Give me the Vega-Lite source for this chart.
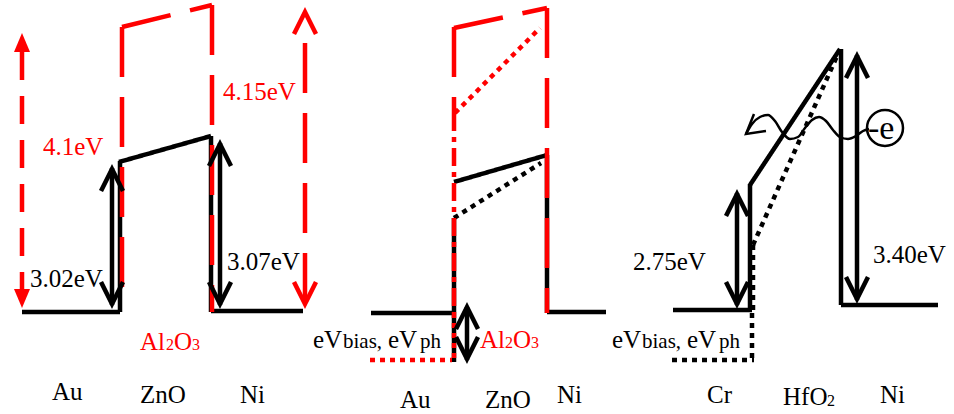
{
  "$schema": "https://vega.github.io/schema/vega-lite/v6.json",
  "width": 954,
  "height": 414,
  "autosize": {"type": "fit", "contains": "padding"},
  "padding": 0,
  "background": "white",
  "config": {"view": {"stroke": null}},
  "datasets": {
    "segments": [
      {"x": 22, "y": 312, "x2": 120, "y2": 312, "kind": "band"},
      {"x": 120, "y": 312, "x2": 120, "y2": 161, "kind": "band"},
      {"x": 119, "y": 162, "x2": 211, "y2": 136, "kind": "band"},
      {"x": 211, "y": 136, "x2": 211, "y2": 312, "kind": "band"},
      {"x": 211, "y": 311, "x2": 303, "y2": 311, "kind": "band"},
      {"x": 112, "y": 168, "x2": 112, "y2": 305, "kind": "band"},
      {"x": 220, "y": 143, "x2": 220, "y2": 305, "kind": "band"},
      {"x": 371, "y": 313, "x2": 454, "y2": 313, "kind": "band"},
      {"x": 454, "y": 218, "x2": 454, "y2": 362, "kind": "band"},
      {"x": 454, "y": 182, "x2": 547, "y2": 155, "kind": "band"},
      {"x": 547, "y": 155, "x2": 547, "y2": 313, "kind": "band"},
      {"x": 547, "y": 312, "x2": 606, "y2": 312, "kind": "band"},
      {"x": 467, "y": 307, "x2": 467, "y2": 360, "kind": "band"},
      {"x": 673, "y": 310, "x2": 752, "y2": 310, "kind": "band"},
      {"x": 750, "y": 310, "x2": 750, "y2": 184, "kind": "band"},
      {"x": 750, "y": 185, "x2": 840, "y2": 49, "kind": "band"},
      {"x": 841, "y": 49, "x2": 841, "y2": 305, "kind": "band"},
      {"x": 841, "y": 305, "x2": 938, "y2": 305, "kind": "band"},
      {"x": 737, "y": 193, "x2": 737, "y2": 305, "kind": "band"},
      {"x": 857, "y": 55, "x2": 857, "y2": 300, "kind": "band"},
      {"x": 454, "y": 218, "x2": 541, "y2": 163, "kind": "band-biased"},
      {"x": 753, "y": 245, "x2": 837, "y2": 56, "kind": "band-biased"},
      {"x": 753, "y": 245, "x2": 753, "y2": 310, "kind": "band-biased"},
      {"x": 752, "y": 313, "x2": 752, "y2": 362, "kind": "band-biased"},
      {"x": 672, "y": 360, "x2": 754, "y2": 360, "kind": "band-biased"},
      {"x": 122, "y": 27, "x2": 122, "y2": 290, "kind": "al2o3"},
      {"x": 122, "y": 27, "x2": 212, "y2": 5, "kind": "al2o3"},
      {"x": 212, "y": 5, "x2": 212, "y2": 312, "kind": "al2o3"},
      {"x": 22, "y": 52, "x2": 22, "y2": 290, "kind": "al2o3-arrow"},
      {"x": 305, "y": 43, "x2": 305, "y2": 300, "kind": "al2o3"},
      {"x": 454, "y": 27, "x2": 454, "y2": 113, "kind": "al2o3"},
      {"x": 454, "y": 113, "x2": 454, "y2": 313, "kind": "al2o3-interface"},
      {"x": 454, "y": 28, "x2": 547, "y2": 8, "kind": "al2o3"},
      {"x": 547, "y": 8, "x2": 547, "y2": 313, "kind": "al2o3"},
      {"x": 455, "y": 113, "x2": 540, "y2": 28, "kind": "al2o3-biased"},
      {"x": 454, "y": 313, "x2": 454, "y2": 360, "kind": "al2o3-biased"},
      {"x": 370, "y": 360, "x2": 452, "y2": 360, "kind": "al2o3-biased"}
    ],
    "heads": [
      {"x": 112, "y": 169, "head": "up", "kind": "band"},
      {"x": 112, "y": 304, "head": "down", "kind": "band"},
      {"x": 220, "y": 144, "head": "up", "kind": "band"},
      {"x": 220, "y": 304, "head": "down", "kind": "band"},
      {"x": 305, "y": 12, "head": "up", "kind": "al2o3"},
      {"x": 305, "y": 304, "head": "down", "kind": "al2o3"},
      {"x": 467, "y": 307, "head": "up", "kind": "band"},
      {"x": 467, "y": 359, "head": "down", "kind": "band"},
      {"x": 737, "y": 194, "head": "up", "kind": "band"},
      {"x": 737, "y": 304, "head": "down", "kind": "band"},
      {"x": 857, "y": 56, "head": "up", "kind": "band"},
      {"x": 857, "y": 299, "head": "down", "kind": "band"}
    ],
    "waveHead": [
      {"x": 746, "y": 134, "head": "wave", "kind": "band"}
    ],
    "triangles": [
      {"x": 22, "y": 33, "head": "triUp", "kind": "al2o3"},
      {"x": 22, "y": 308, "head": "triDown", "kind": "al2o3"}
    ],
    "wave": [
      {"i": 0, "x": 746, "y": 134},
      {"i": 1, "x": 752, "y": 124},
      {"i": 2, "x": 760, "y": 117},
      {"i": 3, "x": 768, "y": 115},
      {"i": 4, "x": 775, "y": 121},
      {"i": 5, "x": 782, "y": 132},
      {"i": 6, "x": 790, "y": 139},
      {"i": 7, "x": 798, "y": 137},
      {"i": 8, "x": 805, "y": 128},
      {"i": 9, "x": 812, "y": 120},
      {"i": 10, "x": 819, "y": 117},
      {"i": 11, "x": 826, "y": 121},
      {"i": 12, "x": 833, "y": 130},
      {"i": 13, "x": 840, "y": 137},
      {"i": 14, "x": 848, "y": 139},
      {"i": 15, "x": 856, "y": 136},
      {"i": 16, "x": 863, "y": 131},
      {"i": 17, "x": 869, "y": 129}
    ],
    "electron": [
      {"x": 885, "y": 128}
    ],
    "bigText": [
      {"t": "4.1eV", "x": 43, "y": 155, "kind": "oxide-label"},
      {"t": "4.15eV", "x": 223, "y": 100, "kind": "oxide-label"},
      {"t": "3.02eV", "x": 30, "y": 287, "kind": "label"},
      {"t": "3.07eV", "x": 227, "y": 270, "kind": "label"},
      {"t": "Al", "x": 140, "y": 350, "kind": "oxide-label"},
      {"t": "O", "x": 174, "y": 350, "kind": "oxide-label"},
      {"t": "Au", "x": 52, "y": 400, "kind": "label"},
      {"t": "ZnO", "x": 140, "y": 403, "kind": "label"},
      {"t": "Ni", "x": 240, "y": 403, "kind": "label"},
      {"t": "eV", "x": 313, "y": 348, "kind": "label"},
      {"t": "eV", "x": 388, "y": 348, "kind": "label"},
      {"t": "Al", "x": 480, "y": 348, "kind": "oxide-label"},
      {"t": "O", "x": 513, "y": 348, "kind": "oxide-label"},
      {"t": "Au", "x": 400, "y": 408, "kind": "label"},
      {"t": "ZnO", "x": 485, "y": 408, "kind": "label"},
      {"t": "Ni", "x": 557, "y": 403, "kind": "label"},
      {"t": "2.75eV", "x": 633, "y": 270, "kind": "label"},
      {"t": "3.40eV", "x": 873, "y": 263, "kind": "label"},
      {"t": "eV", "x": 612, "y": 348, "kind": "label"},
      {"t": "eV", "x": 687, "y": 348, "kind": "label"},
      {"t": "Cr", "x": 707, "y": 403, "kind": "label"},
      {"t": "HfO", "x": 783, "y": 405, "kind": "label"},
      {"t": "Ni", "x": 880, "y": 403, "kind": "label"}
    ],
    "smallText": [
      {"t": "bias,", "x": 343, "y": 348, "kind": "label"},
      {"t": "ph", "x": 420, "y": 348, "kind": "label"},
      {"t": "bias,", "x": 642, "y": 348, "kind": "label"},
      {"t": "ph", "x": 719, "y": 348, "kind": "label"}
    ],
    "subText": [
      {"t": "2", "x": 166, "y": 350, "kind": "oxide-label"},
      {"t": "3", "x": 192, "y": 350, "kind": "oxide-label"},
      {"t": "2", "x": 505, "y": 348, "kind": "oxide-label"},
      {"t": "3", "x": 531, "y": 348, "kind": "oxide-label"},
      {"t": "2", "x": 827, "y": 406, "kind": "label"}
    ],
    "electronText": [
      {"t": "-e", "x": 868, "y": 139, "kind": "label"}
    ]
  },
  "encoding": {
    "x": {"field": "x", "type": "quantitative", "scale": {"domain": [0, 954], "nice": false, "zero": false}, "axis": null},
    "y": {"field": "y", "type": "quantitative", "scale": {"domain": [0, 414], "reverse": true, "nice": false, "zero": false}, "axis": null}
  },
  "layer": [
    {
      "data": {"name": "segments"},
      "mark": {"type": "rule", "strokeWidth": 4.5, "strokeCap": "butt"},
      "encoding": {
        "x2": {"field": "x2"},
        "y2": {"field": "y2"},
        "color": {"field": "kind", "type": "nominal", "legend": null, "scale": {"domain": ["band", "band-biased", "al2o3", "al2o3-arrow", "al2o3-biased", "al2o3-interface", "label", "oxide-label"], "range": ["#000000", "#000000", "#ff0000", "#ff0000", "#ff0000", "#ff0000", "#000000", "#ff0000"]}},
        "strokeDash": {"field": "kind", "type": "nominal", "legend": null, "scale": {"domain": ["band", "band-biased", "al2o3", "al2o3-arrow", "al2o3-biased", "al2o3-interface"], "range": [[1, 0], [5, 5], [50, 20], [28, 16], [5, 5], [18, 6, 5, 6]]}}
      }
    },
    {
      "data": {"name": "wave"},
      "mark": {"type": "line", "strokeWidth": 2.5, "color": "#000000", "interpolate": "monotone"},
      "encoding": {
        "order": {"field": "i", "type": "quantitative"}
      }
    },
    {
      "data": {"name": "heads"},
      "mark": {"type": "point", "filled": false, "size": 4, "strokeWidth": 4.5, "opacity": 1},
      "encoding": {
        "shape": {"field": "head", "type": "nominal", "legend": null, "scale": {"domain": ["up", "down", "wave", "triUp", "triDown"], "range": ["M-11,22L0,0L11,22", "M-11,-22L0,0L11,-22", "M8,-20L0,0L20,-3", "M0,0L-8,19L8,19Z", "M0,0L-8,-19L8,-19Z"]}},
        "color": {"field": "kind", "type": "nominal", "legend": null, "scale": {"domain": ["band", "band-biased", "al2o3", "al2o3-arrow", "al2o3-biased", "al2o3-interface", "label", "oxide-label"], "range": ["#000000", "#000000", "#ff0000", "#ff0000", "#ff0000", "#ff0000", "#000000", "#ff0000"]}}
      }
    },
    {
      "data": {"name": "waveHead"},
      "mark": {"type": "point", "filled": false, "size": 4, "strokeWidth": 2.5, "opacity": 1},
      "encoding": {
        "shape": {"field": "head", "type": "nominal", "legend": null, "scale": {"domain": ["up", "down", "wave", "triUp", "triDown"], "range": ["M-11,22L0,0L11,22", "M-11,-22L0,0L11,-22", "M8,-20L0,0L20,-3", "M0,0L-8,19L8,19Z", "M0,0L-8,-19L8,-19Z"]}},
        "color": {"field": "kind", "type": "nominal", "legend": null, "scale": {"domain": ["band", "band-biased", "al2o3", "al2o3-arrow", "al2o3-biased", "al2o3-interface", "label", "oxide-label"], "range": ["#000000", "#000000", "#ff0000", "#ff0000", "#ff0000", "#ff0000", "#000000", "#ff0000"]}}
      }
    },
    {
      "data": {"name": "triangles"},
      "mark": {"type": "point", "filled": true, "size": 4, "opacity": 1},
      "encoding": {
        "shape": {"field": "head", "type": "nominal", "legend": null, "scale": {"domain": ["up", "down", "wave", "triUp", "triDown"], "range": ["M-11,22L0,0L11,22", "M-11,-22L0,0L11,-22", "M8,-20L0,0L20,-3", "M0,0L-8,19L8,19Z", "M0,0L-8,-19L8,-19Z"]}},
        "color": {"field": "kind", "type": "nominal", "legend": null, "scale": {"domain": ["band", "band-biased", "al2o3", "al2o3-arrow", "al2o3-biased", "al2o3-interface", "label", "oxide-label"], "range": ["#000000", "#000000", "#ff0000", "#ff0000", "#ff0000", "#ff0000", "#000000", "#ff0000"]}}
      }
    },
    {
      "data": {"name": "electron"},
      "mark": {"type": "point", "shape": "circle", "filled": false, "size": 1296, "strokeWidth": 2.5, "color": "#000000", "opacity": 1}
    },
    {
      "data": {"name": "bigText"},
      "mark": {"type": "text", "align": "left", "baseline": "alphabetic", "font": "Liberation Serif", "fontSize": 25},
      "encoding": {
        "text": {"field": "t"},
        "color": {"field": "kind", "type": "nominal", "legend": null, "scale": {"domain": ["band", "band-biased", "al2o3", "al2o3-arrow", "al2o3-biased", "al2o3-interface", "label", "oxide-label"], "range": ["#000000", "#000000", "#ff0000", "#ff0000", "#ff0000", "#ff0000", "#000000", "#ff0000"]}}
      }
    },
    {
      "data": {"name": "smallText"},
      "mark": {"type": "text", "align": "left", "baseline": "alphabetic", "font": "Liberation Serif", "fontSize": 21},
      "encoding": {
        "text": {"field": "t"},
        "color": {"field": "kind", "type": "nominal", "legend": null, "scale": {"domain": ["band", "band-biased", "al2o3", "al2o3-arrow", "al2o3-biased", "al2o3-interface", "label", "oxide-label"], "range": ["#000000", "#000000", "#ff0000", "#ff0000", "#ff0000", "#ff0000", "#000000", "#ff0000"]}}
      }
    },
    {
      "data": {"name": "subText"},
      "mark": {"type": "text", "align": "left", "baseline": "alphabetic", "font": "Liberation Serif", "fontSize": 16},
      "encoding": {
        "text": {"field": "t"},
        "color": {"field": "kind", "type": "nominal", "legend": null, "scale": {"domain": ["band", "band-biased", "al2o3", "al2o3-arrow", "al2o3-biased", "al2o3-interface", "label", "oxide-label"], "range": ["#000000", "#000000", "#ff0000", "#ff0000", "#ff0000", "#ff0000", "#000000", "#ff0000"]}}
      }
    },
    {
      "data": {"name": "electronText"},
      "mark": {"type": "text", "align": "left", "baseline": "alphabetic", "font": "Liberation Serif", "fontSize": 34},
      "encoding": {
        "text": {"field": "t"},
        "color": {"field": "kind", "type": "nominal", "legend": null, "scale": {"domain": ["band", "band-biased", "al2o3", "al2o3-arrow", "al2o3-biased", "al2o3-interface", "label", "oxide-label"], "range": ["#000000", "#000000", "#ff0000", "#ff0000", "#ff0000", "#ff0000", "#000000", "#ff0000"]}}
      }
    }
  ]
}
